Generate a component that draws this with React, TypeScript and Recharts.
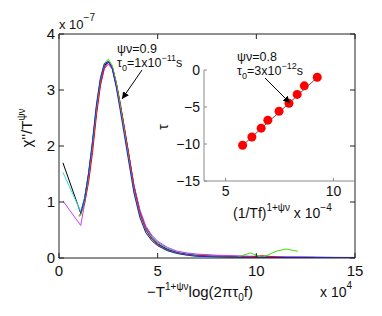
import React from 'react';
import { LineChart, Line, XAxis, YAxis } from 'recharts';

// Main plot: x in units of 1e4, y in units of 1e-7
const X_VALUES = [0.2, 1.0, 1.1, 1.3, 1.5, 1.7, 1.9, 2.1, 2.3, 2.5, 2.7, 2.9, 3.1, 3.3, 3.5, 3.8, 4.1, 4.4, 4.7, 5.0, 5.5, 6.0, 6.5, 7.0, 8.0, 9.0, 9.7, 10.3, 11.0, 11.5, 12.1, 13, 14, 15];

const S_BLACK = [1.70, null, 0.80, 1.07, 1.50, 2.05, 2.68, 3.17, 3.44, 3.50, 3.40, 3.10, 2.72, 2.32, 1.90, 1.27, 0.82, 0.53, 0.37, 0.26, 0.16, 0.10, 0.07, 0.05, 0.03, 0.02, 0.02, 0.02, 0.015, 0.01, 0.01, 0.01, 0.008, 0.006];
const S_CYAN = [1.53, null, 0.83, 1.08, 1.52, 2.08, 2.72, 3.20, 3.46, 3.51, 3.39, 3.08, 2.70, 2.30, 1.88, 1.24, 0.80, 0.52, 0.37, 0.27, 0.17, 0.11, 0.08, 0.06, 0.04, 0.03, 0.03, 0.03, 0.025, 0.02, 0.02, 0.015, 0.01, 0.01];
const S_MAGENTA = [1.02, null, 0.58, 0.97, 1.42, 1.98, 2.60, 3.10, 3.38, 3.46, 3.37, 3.08, 2.72, 2.33, 1.92, 1.30, 0.86, 0.57, 0.41, 0.30, 0.19, 0.12, 0.09, 0.07, 0.05, 0.04, 0.03, 0.03, 0.02, 0.02, 0.02, 0.015, 0.01, 0.01];
const S_RED = [null, 0.76, 0.78, 0.98, 1.35, 1.88, 2.55, 3.08, 3.40, 3.49, 3.42, 3.14, 2.77, 2.36, 1.93, 1.27, 0.80, 0.50, 0.34, 0.24, 0.14, 0.09, 0.06, 0.04, 0.03, 0.02, 0.02, 0.04, 0.02, 0.01, 0.01, 0.01, null, null];
const S_GREEN = [null, 0.74, 0.76, 1.02, 1.48, 2.05, 2.70, 3.20, 3.48, 3.55, 3.44, 3.12, 2.72, 2.28, 1.84, 1.18, 0.74, 0.46, 0.31, 0.22, 0.13, 0.08, 0.05, 0.03, 0.02, 0.01, 0.09, 0.01, 0.12, 0.16, 0.12, null, null, null];
const S_BLUE = [null, null, 0.80, 1.06, 1.52, 2.10, 2.75, 3.22, 3.47, 3.51, 3.38, 3.05, 2.64, 2.22, 1.79, 1.16, 0.72, 0.45, 0.31, 0.22, 0.13, 0.08, 0.05, 0.03, 0.02, 0.015, 0.01, 0.01, 0.01, 0.01, 0.008, 0.006, 0.005, 0.004];
const S_TEAL = [null, null, 0.79, 1.04, 1.49, 2.04, 2.68, 3.16, 3.44, 3.52, 3.41, 3.11, 2.73, 2.31, 1.89, 1.24, 0.79, 0.50, 0.35, 0.25, 0.15, 0.10, 0.07, 0.05, 0.03, 0.02, 0.02, 0.015, 0.01, 0.01, 0.01, 0.008, 0.006, 0.005];
const S_PURPLE = [null, null, 0.81, 1.05, 1.47, 2.01, 2.64, 3.14, 3.42, 3.50, 3.41, 3.13, 2.76, 2.35, 1.93, 1.29, 0.84, 0.55, 0.39, 0.28, 0.17, 0.11, 0.08, 0.06, 0.04, 0.03, 0.025, 0.02, 0.02, 0.015, 0.015, 0.01, 0.01, 0.008];

const SERIES = [
  { key: 'purple', color: '#8040c0', values: S_PURPLE },
  { key: 'teal', color: '#008080', values: S_TEAL },
  { key: 'black', color: '#000000', values: S_BLACK },
  { key: 'cyan', color: '#30e0e0', values: S_CYAN },
  { key: 'magenta', color: '#c040ff', values: S_MAGENTA },
  { key: 'red', color: '#ff0000', values: S_RED },
  { key: 'green', color: '#40e000', values: S_GREEN },
  { key: 'blue', color: '#2020ff', values: S_BLUE },
];

const MAIN_X_TICKS = [0, 5, 10, 15];
const MAIN_Y_TICKS = [0, 1, 2, 3, 4];

// Inset: x in units of 1e-4, tau
const INSET_X = [5.79, 6.22, 6.65, 6.96, 7.48, 7.94, 8.32, 8.65, 9.25];
const INSET_TAU = [-10.17, -9.06, -7.86, -6.78, -5.58, -4.51, -3.30, -2.14, -0.98];
const FIT_X = [5.79, 9.3];
const FIT_TAU = [-10.2, -0.87];
const INSET_X_TICKS = [5, 10];
const INSET_Y_TICKS = [0, -5, -10, -15];

const mainData = X_VALUES.map((x, i) => {
  const row: Record<string, number | null> = { x };
  SERIES.forEach((s) => { row[s.key] = s.values[i]; });
  return row;
});
const insetPoints = INSET_X.map((x, i) => ({ x, y: INSET_TAU[i] }));
const fitLine = FIT_X.map((x, i) => ({ x, y: FIT_TAU[i] }));

const FONT = '"Liberation Sans", Arial, Helvetica, sans-serif';
const AX = '#222';
const INSET_AX = '#8a8a8a';

const BottomTick = (p: any) => (
  <g>
    <line x1={p.x} x2={p.x} y1={p.y} y2={p.y - 5} stroke={AX} />
    <text x={p.x} y={p.y + 18} textAnchor="middle" fontSize={15} fontFamily={FONT} fill="#111">{p.payload.value}</text>
  </g>
);
const TopTick = (p: any) => (
  <line x1={p.x} x2={p.x} y1={p.y} y2={p.y + 5} stroke={AX} />
);
const LeftTick = (p: any) => (
  <g>
    <line x1={p.x} x2={p.x + 5} y1={p.y} y2={p.y} stroke={AX} />
    <text x={p.x - 4} y={p.y + 5} textAnchor="end" fontSize={15} fontFamily={FONT} fill="#111">{p.payload.value}</text>
  </g>
);
const RightTick = (p: any) => (
  <line x1={p.x} x2={p.x - 5} y1={p.y} y2={p.y} stroke={AX} />
);
const InsetBottomTick = (p: any) => (
  <g>
    <line x1={p.x} x2={p.x} y1={p.y} y2={p.y - 3} stroke={INSET_AX} />
    <text x={p.x} y={p.y + 15} textAnchor="middle" fontSize={14} fontFamily={FONT} fill="#111">{p.payload.value}</text>
  </g>
);
const InsetLeftTick = (p: any) => {
  const v = p.payload.value;
  const label = v < 0 ? '\u2212' + Math.abs(v) : String(v);
  return (
    <g>
      <line x1={p.x} x2={p.x + 3} y1={p.y} y2={p.y} stroke={INSET_AX} />
      <text x={p.x - 4} y={p.y + 5} textAnchor="end" fontSize={14} fontFamily={FONT} fill="#111">{label}</text>
    </g>
  );
};

export default function App() {
  return (
    <div style={{ position: 'absolute', left: 0, top: 0, width: 382, height: 316, background: '#fff', fontFamily: FONT }}>
      <div style={{ position: 'absolute', left: 0, top: 0 }}>
        <LineChart width={382} height={316} data={mainData} margin={{ top: 24, right: 17, bottom: 38, left: 29 }}>
          <XAxis xAxisId="b" dataKey="x" type="number" domain={[0, 15]} ticks={MAIN_X_TICKS} height={20} tickSize={0} tickMargin={0} tickLine={false} tick={BottomTick} stroke={AX} allowDataOverflow />
          <XAxis xAxisId="top" orientation="top" dataKey="x" type="number" domain={[0, 15]} ticks={MAIN_X_TICKS} height={10} tickSize={0} tickMargin={0} tickLine={false} tick={TopTick} stroke={AX} allowDataOverflow />
          <YAxis yAxisId="l" type="number" domain={[0, 4]} ticks={MAIN_Y_TICKS} width={30} tickSize={0} tickMargin={0} tickLine={false} tick={LeftTick} stroke={AX} allowDataOverflow />
          <YAxis yAxisId="right" orientation="right" type="number" domain={[0, 4]} ticks={MAIN_Y_TICKS} width={10} tickSize={0} tickMargin={0} tickLine={false} tick={RightTick} stroke={AX} allowDataOverflow />
          {SERIES.map((s) => (
            <Line key={s.key} xAxisId="b" yAxisId="l" dataKey={s.key} stroke={s.color} strokeWidth={1} dot={false} connectNulls isAnimationActive={false} />
          ))}
        </LineChart>
      </div>
      <div style={{ position: 'absolute', left: 0, top: 0 }}>
        <LineChart width={382} height={316} margin={{ top: 70, right: 27, bottom: 115, left: 174 }}>
          <XAxis dataKey="x" type="number" domain={[4, 11]} ticks={INSET_X_TICKS} height={20} tickSize={0} tickMargin={0} tickLine={false} tick={InsetBottomTick} stroke={INSET_AX} allowDataOverflow />
          <YAxis dataKey="y" type="number" domain={[-15, 0]} ticks={INSET_Y_TICKS} width={30} tickSize={0} tickMargin={0} tickLine={false} tick={InsetLeftTick} stroke={INSET_AX} allowDataOverflow />
          <Line data={fitLine} dataKey="y" stroke="#555" strokeWidth={1} dot={false} isAnimationActive={false} />
          <Line data={insetPoints} dataKey="y" stroke="none" dot={{ r: 4.5, fill: '#ff0000', stroke: '#ff0000', strokeWidth: 0 }} isAnimationActive={false} />
        </LineChart>
      </div>
      <svg width={382} height={316} style={{ position: 'absolute', left: 0, top: 0 }} fontFamily={FONT} fill="#111">
        <defs>
          <marker id="ah" markerWidth="8" markerHeight="8" refX="7" refY="4" orient="auto" markerUnits="userSpaceOnUse">
            <path d="M0,0.5 L7,4 L0,7.5 z" fill="#000" />
          </marker>
        </defs>
        <text x={59} y={29} fontSize={13}>x 10<tspan fontSize={10} dy={-8}>{'\u22127'}</tspan></text>
        <text transform="translate(32,128) rotate(-90)" textAnchor="middle" fontSize={15}>{'\u03c7\'\'/T'}<tspan fontSize={10} dy={-7}>{'\u03c8\u03bd'}</tspan></text>
        <text x={200} y={297} textAnchor="middle" fontSize={15}>{'\u2212T'}<tspan fontSize={10} dy={-7}>{'1+\u03c8\u03bd'}</tspan><tspan dy={7}>log(2{'\u03c0\u03c4'}</tspan><tspan fontSize={10} dy={4}>0</tspan><tspan dy={-4}>f)</tspan></text>
        <text x={320} y={297} fontSize={14}>x 10<tspan fontSize={10} dy={-8}>4</tspan></text>
        <text x={117} y={53} fontSize={12.5}>{'\u03c8\u03bd=0.9'}</text>
        <text x={117} y={67} fontSize={12.5}>{'\u03c4'}<tspan fontSize={9} dy={4}>0</tspan><tspan dy={-4}>=1x10</tspan><tspan fontSize={9} dy={-6}>{'\u221211'}</tspan><tspan dy={6}>s</tspan></text>
        <line x1={142} y1={70} x2={122} y2={99} stroke="#000" strokeWidth={1} markerEnd="url(#ah)" />
        <text x={237} y={61} fontSize={12.5}>{'\u03c8\u03bd=0.8'}</text>
        <text x={237} y={75} fontSize={12.5}>{'\u03c4'}<tspan fontSize={9} dy={4}>0</tspan><tspan dy={-4}>=3x10</tspan><tspan fontSize={9} dy={-6}>{'\u221212'}</tspan><tspan dy={6}>s</tspan></text>
        <line x1={265} y1={78} x2={290} y2={103} stroke="#000" strokeWidth={1} markerEnd="url(#ah)" />
        <text transform="translate(168,127) rotate(-90)" textAnchor="middle" fontSize={14}>{'\u03c4'}</text>
        <text x={233} y={218} fontSize={14}>(1/Tf)<tspan fontSize={10} dy={-7}>{'1+\u03c8\u03bd'}</tspan><tspan dy={7}> x 10</tspan><tspan fontSize={10} dy={-7}>{'\u22124'}</tspan></text>
      </svg>
    </div>
  );
}
